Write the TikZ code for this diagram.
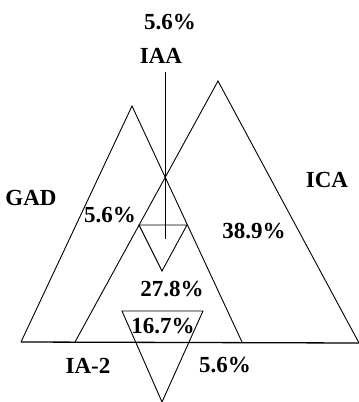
\documentclass[tikz,border=0pt]{standalone}
\usepackage{fontspec}
\setmainfont{Liberation Serif}
\begin{document}
\begin{tikzpicture}[x=1pt,y=-1pt,
  edge/.style={draw=black,line width=0.9pt,line join=miter},
  lbl/.style={font=\fontsize{23}{26}\selectfont\bfseries,inner sep=0pt,anchor=center}]
\useasboundingbox (0,0) rectangle (359,402);
% GAD triangle
\coordinate (gadT) at (132,106);
\coordinate (gadL) at (21,342);
\coordinate (gadR) at (242,342);
% ICA triangle
\coordinate (icaT) at (218,81);
\coordinate (icaL) at (75,342);
\coordinate (icaR) at (359,343);
% IAA
\coordinate (iaaTop) at (165,72);
\coordinate (iaaBot) at (165,239);
\coordinate (iaaL) at (139,225);
\coordinate (iaaR) at (187,225);
\coordinate (iaaA) at (162,271);
% IA-2
\coordinate (ia2L) at (122,311);
\coordinate (ia2R) at (203,311);
\coordinate (ia2A) at (162,402);

\draw[edge] (gadL) -- (gadT) -- (gadR);
\draw[edge] (icaL) -- (icaT) -- (icaR);
\draw[edge,line width=1.3pt] (gadL) -- (icaR);
\draw[edge] (iaaTop) -- (iaaBot);
\draw[edge] (iaaL) -- (iaaR) -- (iaaA) -- cycle;
\draw[edge] (ia2L) -- (ia2R) -- (ia2A) -- cycle;

\node[lbl] (pTop) at (170,22) {5.6\%};
\node[lbl] (nIAA) at (161,56) {IAA};
\node[lbl] (nGAD) at (31,198) {GAD};
\node[lbl] (nICA) at (327,180) {ICA};
\node[lbl] (pGAD) at (110,215) {5.6\%};
\node[lbl] (pICA) at (254,231) {38.9\%};
\node[lbl] (pMid) at (172,289) {27.8\%};
\node[lbl] (pIn) at (163,326) {16.7\%};
\node[lbl] (nIA2) at (88,366) {IA-2};
\node[lbl] (pIA2) at (225,365) {5.6\%};
\end{tikzpicture}
\end{document}
